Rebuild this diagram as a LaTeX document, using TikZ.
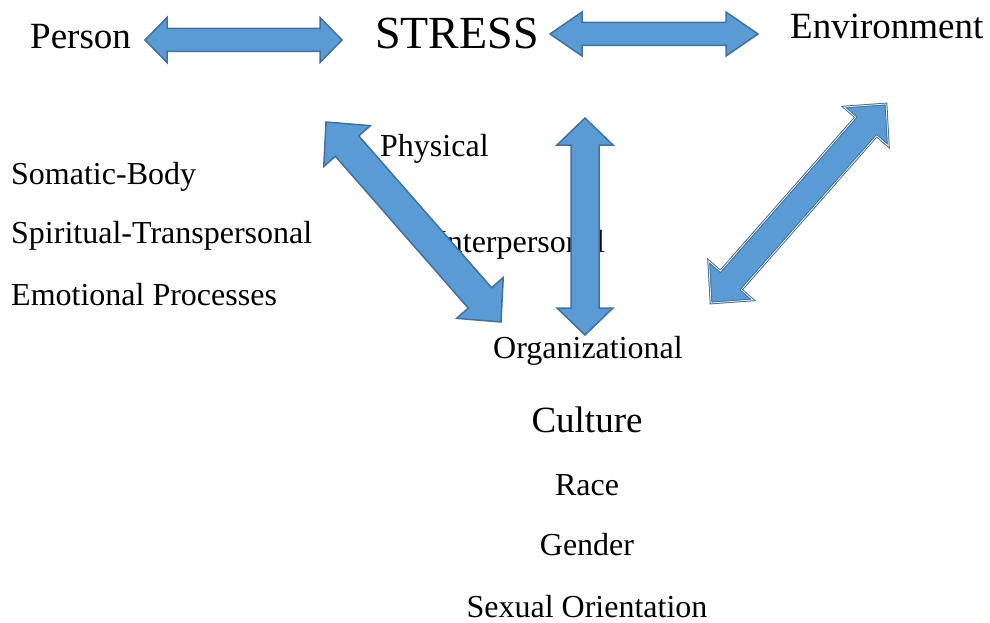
\documentclass[tikz,border=0pt]{standalone}
\usepackage{fontspec}
\setmainfont{Liberation Serif}
\usetikzlibrary{calc}
\definecolor{arrowfill}{HTML}{5B9BD5}
\definecolor{arrowline}{HTML}{41719C}
% #2 from, #3 to, #4 half shaft, #5 half head, #6 head length
\newcommand{\blockarrow}[6][]{%
  \draw[blockarr, #1] (#2)
    -- ($(#2)!#6!(#3)!#5!90:(#3)$) -- ($(#2)!#6!(#3)!#4!90:(#3)$)
    -- ($(#3)!#6!(#2)!#4!-90:(#2)$) -- ($(#3)!#6!(#2)!#5!-90:(#2)$)
    -- (#3)
    -- ($(#3)!#6!(#2)!#5!90:(#2)$) -- ($(#3)!#6!(#2)!#4!90:(#2)$)
    -- ($(#2)!#6!(#3)!#4!-90:(#3)$) -- ($(#2)!#6!(#3)!#5!-90:(#3)$)
    -- cycle;}
\begin{document}
\begin{tikzpicture}[x=1pt, y=-1pt]
\tikzstyle{lbl}=[inner sep=0pt, font=\fontsize{32}{38}\selectfont]
\tikzstyle{big}=[inner sep=0pt, font=\fontsize{37}{44}\selectfont]
\tikzstyle{blockarr}=[fill=arrowfill, draw=arrowline, line width=1.5pt, line join=miter]
\useasboundingbox (0,0) rectangle (990,623);
\node[big, anchor=base west] (person) at (30,49) {Person};
\node[inner sep=0pt, font=\fontsize{46}{54}\selectfont, anchor=base west] (stress) at (375,49) {STRESS};
\node[big, anchor=base west] (environment) at (790,39) {Environment};
\node[lbl, anchor=base west] (somatic) at (11,184) {Somatic-Body};
\node[lbl, anchor=base west] (spiritual) at (11,243) {Spiritual-Transpersonal};
\node[lbl, anchor=base west] (emotional) at (11,305) {Emotional Processes};
\node[lbl, anchor=base west] (physical) at (380,157) {Physical};
\node[lbl, anchor=base west] (interpersonal) at (436,252) {Interpersonal};
\node[lbl, anchor=base] (organizational) at (588,358) {Organizational};
\node[big, anchor=base] (culture) at (587,432) {Culture};
\node[lbl, anchor=base] (race) at (587,495) {Race};
\node[lbl, anchor=base] (gender) at (587,555) {Gender};
\node[lbl, anchor=base] (sexual) at (587,617) {Sexual Orientation};
\coordinate (personend) at (145,40); \coordinate (stressleft) at (342,40);
\coordinate (stressright) at (550,34); \coordinate (envend) at (758,34);
\coordinate (diagtop) at (326,122); \coordinate (diagbot) at (501,322);
\coordinate (verttop) at (585,118); \coordinate (vertbot) at (585,335);
\coordinate (envtop) at (886,104); \coordinate (envbot) at (711,303);
\blockarrow{personend}{stressleft}{11.5pt}{22.5pt}{22pt}
\blockarrow{stressright}{envend}{11.5pt}{22pt}{32pt}
\blockarrow{diagtop}{diagbot}{15.5pt}{31pt}{32pt}
\blockarrow{verttop}{vertbot}{14pt}{28pt}{27pt}
\blockarrow[double=white, double distance=0.7pt, line width=1pt]{envtop}{envbot}{14pt}{29.5pt}{30pt}
\end{tikzpicture}
\end{document}
